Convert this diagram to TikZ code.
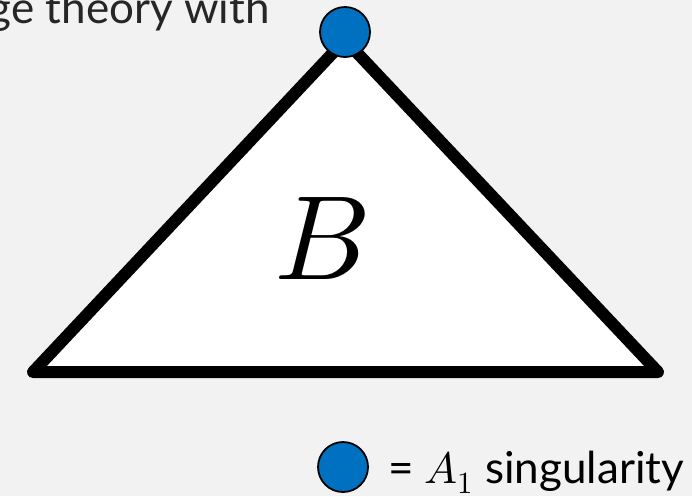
\documentclass[tikz,border=0pt]{standalone}
\usepackage{fontspec}
\usepackage{unicode-math}
\setmainfont{Lato}
\setmathfont{Latin Modern Math}
\definecolor{bggray}{HTML}{F2F2F2}
\definecolor{singblue}{HTML}{0070C0}
\definecolor{inkgray}{HTML}{262626}
\begin{document}
\begin{tikzpicture}[x=1pt, y=-1pt]
  \tikzset{sing/.style={circle, draw=black, line width=1.8pt, fill=singblue, minimum size=50pt, inner sep=0pt}}
  \tikzset{label/.style={font=\fontsize{44}{48}\selectfont, inner sep=0pt}}
  \fill[bggray] (0,0) rectangle (692,496);
  \useasboundingbox (0,0) rectangle (692,496);
  \clip (0,0) rectangle (692,496);
  % base triangle
  \coordinate (bl) at (33,372);
  \coordinate (br) at (658,372);
  \coordinate (apex) at (345,40);
  \draw[line width=12pt, line join=round, fill=white] (bl) -- (apex) -- (br) -- cycle;
  \node[font=\fontsize{120}{120}\selectfont, inner sep=0pt] (B) at (322,239) {$B$};
  % singular point
  \node[sing] (A1) at (345,32) {};
  % legend
  \node[sing] (key) at (343,467) {};
  \node[label, anchor=base west] (keytext) at (388,483) {= $A_1$ singularity};
  % cut-off title
  \node[label, anchor=base east, text=inkgray] (title) at (270,23) {ge theory with};
\end{tikzpicture}
\end{document}
